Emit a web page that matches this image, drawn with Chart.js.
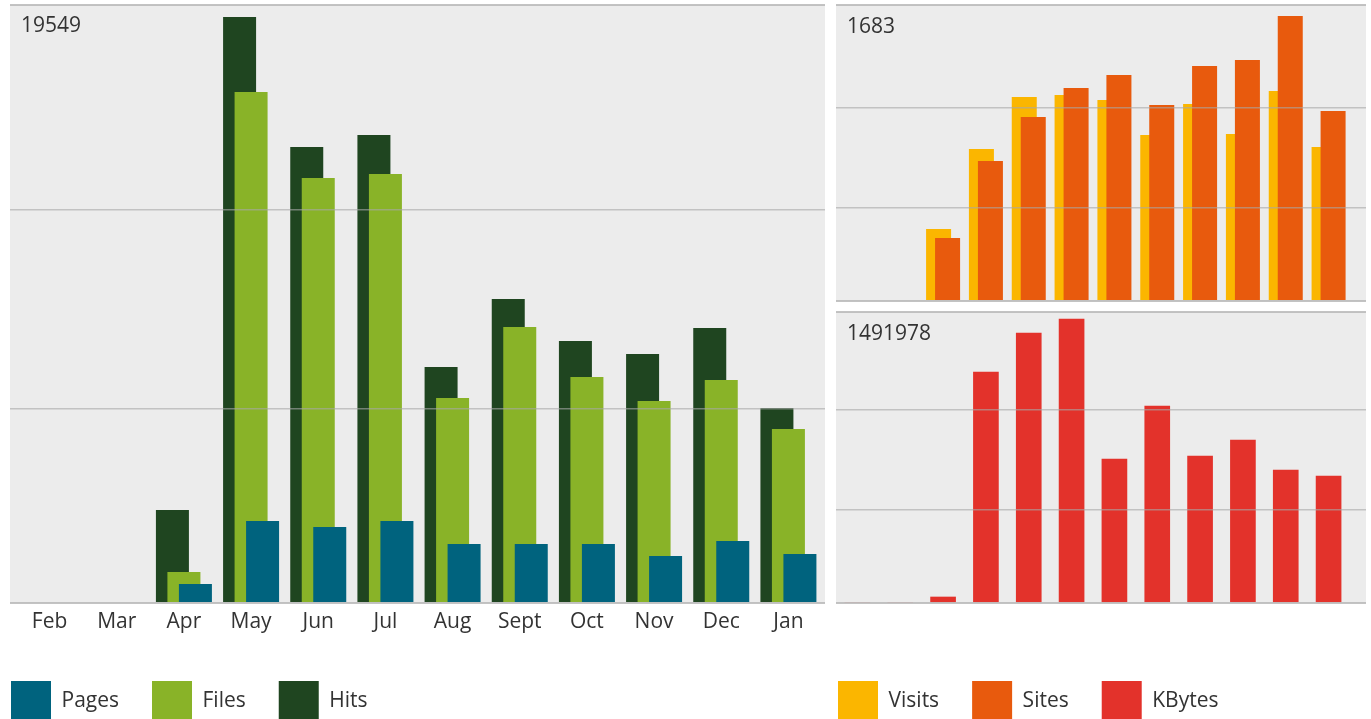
<!DOCTYPE html>
<html>
<head>
<meta charset="utf-8">
<script src="https://cdn.jsdelivr.net/npm/chart.js@4.4.1/dist/chart.umd.min.js"></script>
<style>
  html, body { margin: 0; padding: 0; background: #ffffff; width: 1371px; height: 719px; overflow: hidden; }
  canvas { position: absolute; display: block; }
</style>
</head>
<body>
<canvas id="cL" width="847" height="731" style="left:-22px;top:0px;"></canvas>
<canvas id="cT" width="561" height="305" style="left:805px;top:0px;"></canvas>
<canvas id="cB" width="561" height="426" style="left:805px;top:305px;"></canvas>
<script>
// ---------------- data ----------------
const months = ['Feb', 'Mar', 'Apr', 'May', 'Jun', 'Jul', 'Aug', 'Sept', 'Oct', 'Nov', 'Dec', 'Jan'];

const hits   = [0, 0, 3102, 19549, 15212, 15612, 7873, 10141, 8740, 8306, 9174, 6505];
const files  = [0, 0, 1034, 17047, 14178, 14311, 6839, 9207, 7539, 6739, 7439, 5805];
const pages  = [0, 0, 634, 2736, 2535, 2736, 1968, 1968, 1968, 1568, 2068, 1635];

const visits = [0, 0, 425, 898, 1205, 1216, 1187, 980, 1163, 986, 1240, 909];
const sites  = [0, 0, 372, 827, 1087, 1258, 1335, 1157, 1388, 1423, 1683, 1122];

const kbytes = [0, 0, 31520, 1213535, 1418418, 1491978, 756490, 1034920, 772250, 856304, 698702, 667182];

// tick labels shown in each panel and the value at the top edge of each panel
const peakLabels = ['19549', '1683', '1491978'];
const panelTops  = [19949, 1748, 1528740];
// gridline values of each panel
const trafficGrid = [6472, 13110];
const visitsGrid  = [553, 1144];
const kbytesGrid  = [488566, 1017585];

// ---------------- styles ----------------
const COLORS = {
  pages: '#00637e', files: '#89b328', hits: '#1f4520',
  visits: '#fbb600', sites: '#e85a0d', kbytes: '#e3322b'
};
const TEXT = '#333333';
const PANEL_BG = '#ececec';
const GRID_MID = 'rgba(168,168,168,0.62)';
const GRID_EDGE = 'rgba(185,185,185,0.85)';

Chart.defaults.font.family = "'Open Sans', 'Noto Sans', sans-serif";
Chart.defaults.color = TEXT;

const areaBg = {
  id: 'areaBg',
  beforeDraw(chart, args, opts) {
    const a = chart.chartArea;
    const ctx = chart.ctx;
    ctx.save();
    ctx.fillStyle = opts.color;
    ctx.fillRect(a.left - opts.left, a.top, (a.right - a.left) + opts.left + opts.right, a.bottom - a.top);
    ctx.restore();
  }
};

function valueScales(p) {
  const tickList = [0, p.grid[0], p.grid[1], p.top];
  const setTicks = (s) => { s.ticks = tickList.map(v => ({ value: v })); };
  const isEdge = (c) => c.index === 0 || c.index === tickList.length - 1;
  const lineC = (c) => isEdge(c) ? GRID_EDGE : GRID_MID;
  const lineW = (c) => isEdge(c) ? 2 : 1.5;
  return {
    y: {
      position: 'left', min: 0, max: p.top,
      afterBuildTicks: setTicks,
      afterFit: (s) => { s.width = p.leftWidth; s.paddingTop = 0; s.paddingBottom = 0; },
      grid: { z: 1, color: lineC, lineWidth: lineW, drawTicks: p.leftExt > 0, tickLength: p.leftExt },
      border: { display: false },
      ticks: {
        mirror: true, padding: p.labelPad, labelOffset: p.labelOffset, z: 2,
        color: TEXT, font: { size: 21 },
        callback: (v, i, t) => (i === t.length - 1 ? p.peak : '')
      }
    },
    y2: {
      position: 'right', min: 0, max: p.top,
      afterBuildTicks: setTicks,
      afterFit: (s) => { s.width = p.rightExt; s.paddingTop = 0; s.paddingBottom = 0; },
      grid: { drawOnChartArea: false, color: lineC, lineWidth: lineW, drawTicks: p.rightExt > 0, tickLength: p.rightExt },
      border: { display: false },
      ticks: { display: false }
    }
  };
}

const legendLabels = { boxWidth: 40, boxHeight: 40, padding: 33, color: TEXT, font: { size: 21 } };

// ---------------- left panel: Pages / Files / Hits ----------------
new Chart(document.getElementById('cL'), {
  type: 'bar',
  data: {
    labels: months,
    datasets: [
      { label: 'Pages', data: pages, backgroundColor: COLORS.pages },
      { label: 'Files', data: files, backgroundColor: COLORS.files },
      { label: 'Hits',  data: hits,  backgroundColor: COLORS.hits }
    ]
  },
  options: {
    responsive: false, animation: false, events: [],
    layout: { padding: { top: 5, left: 0, right: 0, bottom: 0 } },
    datasets: { bar: { categoryPercentage: -0.5136, barPercentage: -2.8696, borderWidth: 0 } },
    scales: Object.assign({
      x: {
        grid: { display: false, drawTicks: false },
        border: { display: false },
        afterFit: (s) => { s.height = 45; },
        ticks: { padding: 6, color: TEXT, font: { size: 21 }, maxRotation: 0, autoSkip: false }
      }
    }, valueScales({ top: panelTops[0], grid: trafficGrid, peak: peakLabels[0],
                     leftWidth: 38, leftExt: 6, labelPad: 5, labelOffset: 21, rightExt: 3 })),
    plugins: {
      legend: { position: 'bottom', align: 'start', labels: legendLabels },
      tooltip: { enabled: false },
      areaBg: { color: PANEL_BG, left: 6, right: 3 }
    }
  },
  plugins: [areaBg]
});

// ---------------- top right panel: Visits / Sites ----------------
const visitsSet = { label: 'Visits', data: visits, backgroundColor: COLORS.visits };
const sitesSet  = { label: 'Sites',  data: sites,  backgroundColor: COLORS.sites };
const kbytesSet = { label: 'KBytes', data: kbytes, backgroundColor: COLORS.kbytes };

new Chart(document.getElementById('cT'), {
  type: 'bar',
  data: { labels: months, datasets: [sitesSet, visitsSet] },
  options: {
    responsive: false, animation: false, events: [],
    layout: { padding: { top: 5, left: 0, right: 0, bottom: 4 } },
    datasets: { bar: { categoryPercentage: -0.4203, barPercentage: -2.7778, borderWidth: 0 } },
    scales: Object.assign({
      x: { display: false }
    }, valueScales({ top: panelTops[1], grid: visitsGrid, peak: peakLabels[1],
                     leftWidth: 31, leftExt: 0, labelPad: 11, labelOffset: 22, rightExt: 16 })),
    plugins: {
      legend: { display: false },
      tooltip: { enabled: false },
      areaBg: { color: PANEL_BG, left: 0, right: 16 }
    }
  },
  plugins: [areaBg]
});

// ---------------- bottom right panel: KBytes (+ shared legend) ----------------
const rightLegendSets = [visitsSet, sitesSet, kbytesSet];

new Chart(document.getElementById('cB'), {
  type: 'bar',
  data: { labels: months, datasets: [kbytesSet] },
  options: {
    responsive: false, animation: false, events: [],
    layout: { padding: { top: 7, left: 0, right: 0, bottom: 0 } },
    datasets: { bar: { barThickness: 25, borderWidth: 0 } },
    scales: Object.assign({
      x: {
        grid: { display: false, drawTicks: false },
        border: { display: false },
        ticks: { display: false },
        afterFit: (s) => { s.height = 45; }
      }
    }, valueScales({ top: panelTops[2], grid: kbytesGrid, peak: peakLabels[2],
                     leftWidth: 31, leftExt: 0, labelPad: 11, labelOffset: 22, rightExt: 16 })),
    plugins: {
      legend: {
        position: 'bottom', align: 'start',
        labels: Object.assign({}, legendLabels, {
          generateLabels: () => rightLegendSets.map((ds, i) => ({
            text: ds.label, fillStyle: ds.backgroundColor, strokeStyle: ds.backgroundColor,
            lineWidth: 0, hidden: false, fontColor: TEXT, datasetIndex: i
          }))
        })
      },
      tooltip: { enabled: false },
      areaBg: { color: PANEL_BG, left: 0, right: 16 }
    }
  },
  plugins: [areaBg]
});
</script>
</body>
</html>
